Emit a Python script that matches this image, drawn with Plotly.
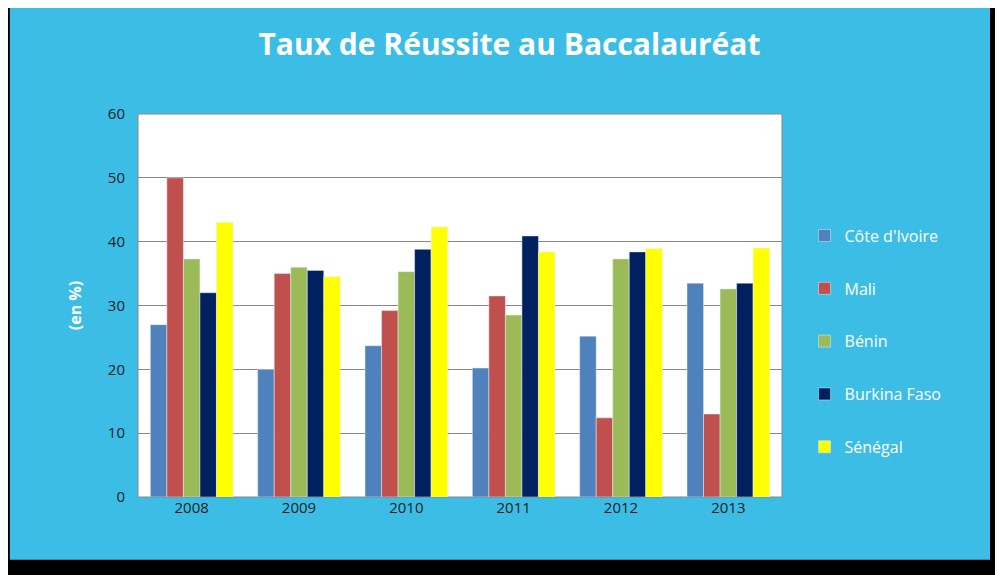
import plotly.graph_objects as go

years = ["2008", "2009", "2010", "2011", "2012", "2013"]
cote_ivoire = [27.0, 20.0, 23.7, 20.2, 25.2, 33.5]
mali = [50.0, 35.0, 29.2, 31.5, 12.4, 13.0]
benin = [37.3, 36.0, 35.3, 28.5, 37.3, 32.6]
burkina = [32.0, 35.5, 38.8, 40.9, 38.4, 33.5]
senegal = [43.0, 34.5, 42.3, 38.4, 38.9, 39.0]

series = [
    ("Côte d'Ivoire", cote_ivoire, "#4f81bd"),
    ("Mali", mali, "#c0504d"),
    ("Bénin", benin, "#9bbb59"),
    ("Burkina Faso", burkina, "#002060"),
    ("Sénégal", senegal, "#ffff00"),
]

fig = go.Figure()
for name, vals, color in series:
    fig.add_trace(go.Bar(x=years, y=vals, name=name, marker_color=color,
                         legendgroup=name))

# blue panel inside black frame
fig.add_shape(type="rect", xref="paper", yref="paper", layer="below",
              x0=-0.199, x1=1.323, y0=-0.164, y1=1.277,
              fillcolor="#3cbde6", line=dict(width=0))
fig.add_shape(type="rect", xref="paper", yref="paper", layer="below",
              x0=0, x1=1, y0=0, y1=1, fillcolor="white",
              line=dict(color="#888888", width=1))

fig.update_layout(
    width=1003, height=575,
    paper_bgcolor="black", plot_bgcolor="rgba(0,0,0,0)",
    margin=dict(l=130, r=229, t=106, b=86),
    font=dict(family="Open Sans", color="#222222"),
    title=dict(text="<b>Taux de Réussite au Baccalauréat</b>", x=0.5, xanchor="center",
               y=0.936, yanchor="middle",
               font=dict(size=30, color="white", family="Open Sans")),
    barmode="group", bargap=0.23, bargroupgap=0,
    legend=dict(x=1.035, y=0.407, yanchor="middle", font=dict(size=16, color="white"),
                tracegroupgap=29, bgcolor="rgba(0,0,0,0)"),
)
fig.update_xaxes(showgrid=False, tickfont=dict(size=15), ticks="", showline=False)
fig.update_yaxes(range=[0, 60], dtick=10, gridcolor="#888888", tickfont=dict(size=15),
                 zeroline=False, ticks="", ticklabelstandoff=12,
                 title=dict(text="<b>(en %)</b>", font=dict(size=16, color="white"), standoff=22))

fig.write_html("out.html")
